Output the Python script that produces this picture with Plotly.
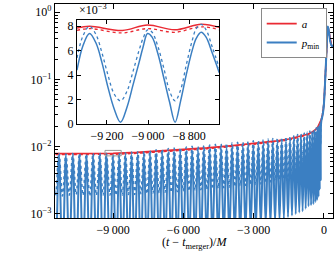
import plotly.graph_objects as go

# ---------------- main panel data (values in units of 1e-3) ----------------
t_peak = [-11605, -11310, -11015, -10722, -10431, -10142, -9855, -9570, -9287, -9005,
          -8740, -8475, -8211, -7948, -7686, -7425, -7165, -6906, -6648, -6391,
          -6135, -5880, -5627, -5376, -5127, -4880, -4636, -4395, -4157, -3922,
          -3690, -3462, -3238, -3018, -2802, -2591, -2385, -2185, -1991, -1803,
          -1622, -1449, -1284, -1128, -981, -844, -718, -603, -500, -409,
          -330, -262, -205, -158, -120]
t_trough = [-11458, -11162, -10868, -10576, -10286, -9998, -9712, -9428, -9133, -8868,
            -8607, -8343, -8079, -7817, -7555, -7295, -7035, -6777, -6519, -6263,
            -6007, -5753, -5501, -5251, -5003, -4758, -4515, -4276, -4039, -3806,
            -3576, -3350, -3128, -2910, -2696, -2488, -2285, -2088, -1897, -1712,
            -1535, -1366, -1206, -1054, -912, -781, -660, -551, -454, -369,
            -296, -233, -181, -139]

pmin_peak = [7.4, 7.4, 7.4, 7.4, 7.45, 7.45, 7.45, 7.45, 7.4, 7.45,
             7.5, 7.55, 7.65, 7.7, 7.8, 7.9, 8.0, 8.1, 8.25, 8.35,
             8.5, 8.6, 8.75, 8.85, 9.0, 9.1, 9.25, 9.4, 9.6, 9.75,
             9.9, 10.05, 10.25, 10.45, 10.6, 10.85, 11.1, 11.3, 11.5, 11.75,
             12.0, 12.3, 12.7, 13.1, 13.4, 13.8, 14.3, 14.9, 15.5, 16.2,
             16.8, 18.0, 19.5, 21.0, 23.0]
pmin_trough = [0.2, 0.18, 0.2, 0.15, 0.2, 0.18, 0.2, 0.15, 0.15, 0.15,
               0.2, 0.2, 0.22, 0.2, 0.25, 0.25, 0.25, 0.3, 0.3, 0.3,
               0.3, 0.35, 0.35, 0.35, 0.4, 0.4, 0.4, 0.45, 0.45, 0.5,
               0.5, 0.55, 0.6, 0.6, 0.65, 0.7, 0.7, 0.75, 0.8, 0.85,
               0.9, 0.95, 1.0, 1.05, 1.1, 1.2, 1.3, 1.35, 1.4, 1.5,
               1.6, 1.8, 2.3, 3.2]
pmin2_peak = [7.9, 8.0, 7.8, 7.9, 8.0, 7.8, 7.9, 8.0, 8.0, 7.7,
              8.15, 8.1, 8.3, 8.4, 8.6, 8.8, 9.0, 9.2, 9.4, 9.5,
              9.7, 9.9, 10.1, 10.2, 10.4, 10.6, 10.8, 11.0, 11.2, 11.4,
              11.6, 11.8, 12.0, 12.2, 12.4, 12.7, 13.0, 13.2, 13.4, 13.7,
              14.0, 14.3, 14.7, 15.1, 15.5, 15.9, 16.4, 17.0, 17.6, 18.3,
              19.0, 20.0, 21.5, 22.5, 24.5]
pmin2_trough = [1.9, 1.85, 1.9, 1.95, 1.9, 1.85, 1.9, 1.9, 1.9, 1.9,
                1.9, 1.95, 1.95, 2.0, 2.0, 2.05, 2.05, 2.1, 2.1, 2.15,
                2.2, 2.2, 2.25, 2.3, 2.3, 2.35, 2.4, 2.45, 2.5, 2.55,
                2.6, 2.65, 2.7, 2.75, 2.8, 2.9, 3.0, 3.1, 3.2, 3.3,
                3.4, 3.5, 3.6, 3.8, 4.0, 4.2, 4.5, 4.8, 5.2, 5.8,
                6.5, 7.5, 9.0, 11.0]

t_a = [-11700, -10000, -9000, -8000, -7000, -6000, -5000, -4000, -3000, -2000,
       -1500, -1000, -700, -500, -350, -250, -180, -120]
a_main = [7.85, 7.9, 7.95, 8.2, 8.6, 9.1, 9.6, 10.3, 11.1, 12.2,
          13.0, 14.2, 15.3, 16.5, 18.0, 20.0, 22.0, 25.0]
a2_main = [7.6, 7.65, 7.7, 7.95, 8.35, 8.8, 9.3, 10.0, 10.8, 11.8,
           12.6, 13.8, 14.8, 16.0, 17.5, 19.5, 21.5, 24.5]

t_tail = [-80, -40, 0, 40, 80, 120, 160, 200, 260, 320, 420]
a_tail = [28, 33, 45, 80, 160, 330, 600, 540, 380, 320, 300]
a2_tail = [27, 32, 43, 76, 150, 310, 570, 520, 370, 315, 300]
pmin_tail = [27, 32, 44, 80, 160, 330, 610, 540, 380, 320, 300]
pmin2_tail = [28, 34, 46, 82, 165, 340, 630, 550, 385, 325, 300]

# ---------------- inset data (values in units of 1e-3) ----------------
t_in = [-9346, -9317, -9285, -9253, -9224, -9195, -9166, -9134, -9102, -9073,
        -9044, -9024, -9002, -8980, -8951, -8922, -8895, -8868, -8841, -8814,
        -8785, -8765, -8741, -8717, -8687, -8653]
pmin_in = [4.4, 6.4, 7.4, 6.6, 5.0, 3.0, 1.3, 0.15, 1.4, 3.2,
           5.0, 6.3, 7.4, 7.1, 5.7, 3.7, 1.8, 0.15, 1.9, 4.0,
           6.0, 7.0, 7.5, 7.1, 5.8, 4.2]
pmin2_in = [5.4, 7.2, 8.0, 7.3, 5.8, 4.0, 2.5, 1.9, 2.7, 4.3,
            6.0, 7.0, 7.7, 7.5, 6.3, 4.5, 2.7, 1.9, 2.8, 4.8,
            6.8, 7.8, 8.15, 7.7, 6.3, 4.6]
t_a_in = [-9346, -9285, -9125, -9002, -8870, -8741, -8653]
a_in = [7.85, 8.0, 7.65, 8.1, 7.7, 8.15, 7.9]
a2_in = [7.65, 7.8, 7.45, 7.8, 7.5, 7.95, 7.7]

inset_xrange = [-9346, -8654]
inset_yrange = [0, 8.5]
zoom_box_y = [7.3, 8.8]

x_ticks = [-9000, -6000, -3000, 0]
x_ticktext = ["\u22129\u2009000", "\u22126\u2009000", "\u22123\u2009000", "0"]
y_ticks = [1e-3, 1e-2, 1e-1, 1e0]
y_ticktext = ["10<sup>\u22123</sup>", "10<sup>\u22122</sup>", "10<sup>\u22121</sup>", "10<sup>0</sup>"]
in_x_ticks = [-9200, -9000, -8800]
in_x_ticktext = ["\u22129\u2009200", "\u22129\u2009000", "\u22128\u2009800"]
in_y_ticks = [0, 2, 4, 6, 8]

RED = "#ea2a33"
BLUE = "#3b7fc2"
FONT = "Liberation Serif"
S = 1e-3


def osc(tp, vp, tt, vt, ttail, vtail):
    pts = sorted(list(zip(tp, vp)) + list(zip(tt, vt))) + list(zip(ttail, vtail))
    return [p[0] for p in pts], [p[1] * S for p in pts]


fig = go.Figure()

# main panel
fig.add_trace(go.Scatter(x=t_a + t_tail, y=[v * S for v in a2_main + a2_tail], mode="lines",
                         line=dict(color=RED, width=1.4, dash="dot"), showlegend=False))
fig.add_trace(go.Scatter(x=t_a + t_tail, y=[v * S for v in a_main + a_tail], mode="lines",
                         line=dict(color=RED, width=1.7), name="<i>a</i>"))
x2, y2 = osc(t_peak, pmin2_peak, t_trough, pmin2_trough, t_tail, pmin2_tail)
fig.add_trace(go.Scatter(x=x2, y=y2, mode="lines", line=dict(color=BLUE, width=1.6, dash="dot", shape="spline"),
                         showlegend=False))
x1, y1 = osc(t_peak, pmin_peak, t_trough, pmin_trough, t_tail, pmin_tail)
fig.add_trace(go.Scatter(x=x1, y=y1, mode="lines", line=dict(color=BLUE, width=2.0, shape="spline"),
                         name="<i>p</i><sub>min</sub>"))

# inset
fig.add_trace(go.Scatter(x=t_a_in, y=[v * S for v in a2_in], xaxis="x2", yaxis="y2", mode="lines",
                         line=dict(color=RED, width=1.3, dash="dot", shape="spline"), showlegend=False))
fig.add_trace(go.Scatter(x=t_a_in, y=[v * S for v in a_in], xaxis="x2", yaxis="y2", mode="lines",
                         line=dict(color=RED, width=1.5, shape="spline"), showlegend=False))
fig.add_trace(go.Scatter(x=t_in, y=[v * S for v in pmin2_in], xaxis="x2", yaxis="y2", mode="lines",
                         line=dict(color=BLUE, width=1.3, dash="dot", shape="spline"), showlegend=False))
fig.add_trace(go.Scatter(x=t_in, y=[v * S for v in pmin_in], xaxis="x2", yaxis="y2", mode="lines",
                         line=dict(color=BLUE, width=1.5, shape="spline"), showlegend=False))

# zoom box on the main panel
fig.add_shape(type="rect", xref="x", yref="y", x0=inset_xrange[0], x1=inset_xrange[1],
              y0=zoom_box_y[0] * S, y1=zoom_box_y[1] * S, line=dict(color="#999999", width=1))

axis_common = dict(showline=True, linecolor="black", linewidth=1.2, mirror="ticks", ticks="inside",
                   tickcolor="black", showgrid=False, zeroline=False,
                   tickfont=dict(family=FONT, size=12, color="black"))

fig.update_layout(
    width=334, height=257,
    margin=dict(l=55, r=1, t=4, b=39),
    paper_bgcolor="white", plot_bgcolor="white",
    xaxis=dict(range=[-11480, 385], tickvals=x_ticks, ticktext=x_ticktext, ticklen=5, tickwidth=1.2,
               **axis_common),
    yaxis=dict(type="log", range=[-3.06, 0.12], tickvals=y_ticks, ticktext=y_ticktext, ticklen=5,
               tickwidth=1.2, minor=dict(ticks="inside", ticklen=3, tickcolor="black", dtick="D1"),
               **axis_common),
    xaxis2=dict(domain=[0.0791, 0.590], anchor="y2", range=inset_xrange, tickvals=in_x_ticks,
                ticktext=in_x_ticktext, ticklen=4, tickwidth=1.2, **axis_common),
    yaxis2=dict(domain=[0.439, 0.925], anchor="x2", range=[v * S for v in inset_yrange],
                tickvals=[v * S for v in in_y_ticks], ticktext=[str(v) for v in in_y_ticks],
                ticklen=4, tickwidth=1.2, **axis_common),
    legend=dict(x=0.74, y=0.981, xanchor="left", yanchor="top", bgcolor="white",
                bordercolor="#8a8a8a", borderwidth=1, font=dict(family=FONT, size=11, color="black"),
                itemwidth=30, tracegroupgap=0),
    showlegend=True,
    annotations=[
        dict(text="(<i>t</i> \u2212 <i>t</i><sub>merger</sub>)/<i>M</i>", xref="paper", yref="paper",
             x=0.5, y=-0.117, xanchor="center", yanchor="middle", showarrow=False,
             font=dict(family=FONT, size=12, color="black")),
        dict(text="\u00d710<sup>\u22123</sup>", xref="paper", yref="paper", x=0.079, y=0.93,
             xanchor="left", yanchor="bottom", showarrow=False,
             font=dict(family=FONT, size=12, color="black")),
    ],
)

fig.write_html("out.html", config={"displayModeBar": False},
               post_script="document.body.style.margin='0';document.body.style.overflow='hidden';")
